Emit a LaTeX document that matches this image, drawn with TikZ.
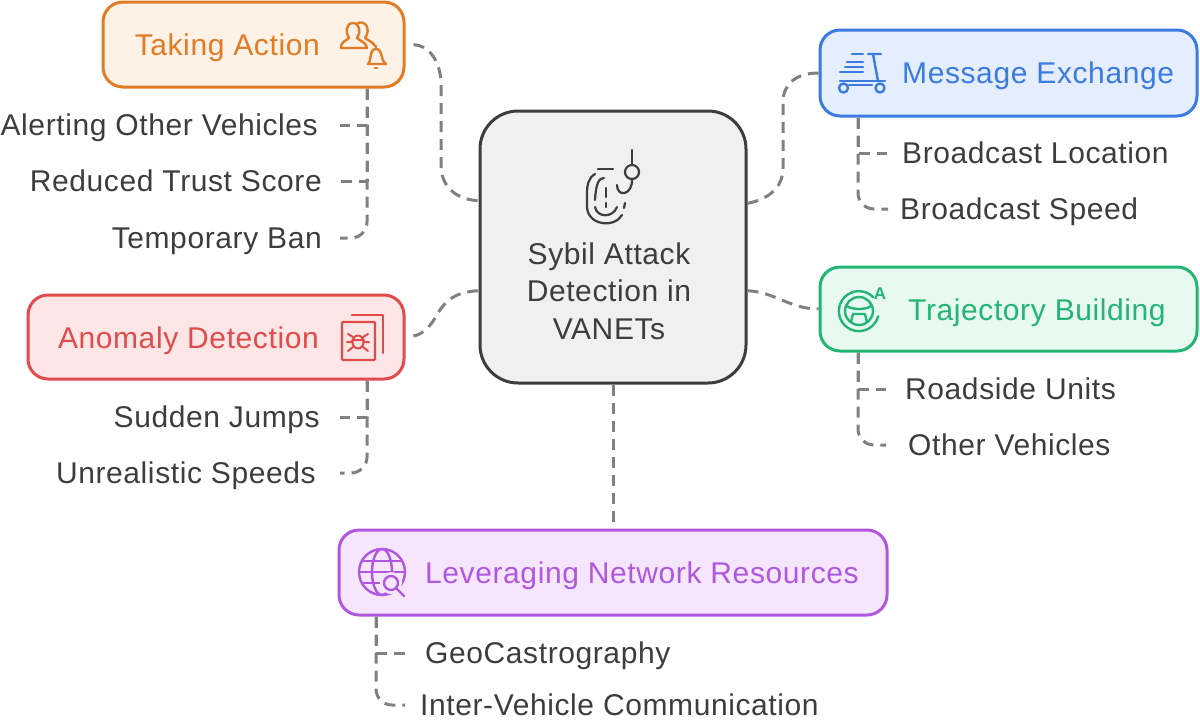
\documentclass[tikz,border=0pt]{standalone}
\usepackage{fontspec}
\setmainfont{Liberation Sans}[LetterSpace=2]
\usepackage{xcolor}
\usetikzlibrary{calc}
\definecolor{actionc}{HTML}{E07B26}
\definecolor{actionf}{HTML}{FEF1E6}
\definecolor{messagec}{HTML}{3B7BE0}
\definecolor{messagef}{HTML}{E4EEFE}
\definecolor{trajc}{HTML}{22B573}
\definecolor{trajf}{HTML}{E8F9F1}
\definecolor{anomc}{HTML}{E14B4B}
\definecolor{anomf}{HTML}{FEE6E6}
\definecolor{netc}{HTML}{B057E0}
\definecolor{netf}{HTML}{F6E6FD}
\definecolor{inkc}{HTML}{3D3D3D}
\definecolor{linkc}{HTML}{808080}

\begin{document}
\begin{tikzpicture}[x=1pt, y=-1pt, line join=round]
        \tikzset{
                basic/.style  = {draw, line width=3pt, rounded corners=20pt, inner sep=0pt},
                root/.style   = {draw=inkc, fill=black!6, line width=3pt, rounded corners=38pt,
                                inner sep=0pt, minimum width=266pt, minimum height=272pt},
                title/.style  = {inner sep=0pt, text height=20pt, text depth=0pt, font=\fontsize{30}{38}\selectfont},
                leafr/.style  = {text=inkc, text height=20pt, text depth=0pt, font=\fontsize{30}{38}\selectfont, inner ysep=0pt, anchor=east},
                leafl/.style  = {leafr, anchor=west},
                link/.style   = {draw=linkc, line width=3pt, dash pattern=on 11pt off 7pt},
                icon/.style   = {line width=2.4pt, line cap=round}
        }
        \useasboundingbox (0,0) rectangle (1200,721);

        % root of the mind map
        \node[root] (main) at (613,247) {};
        \node[font=\fontsize{30}{37.5}\selectfont, inner sep=0pt, text=inkc, align=center] (maint) at (609,291) {Sybil Attack\\Detection in\\VANETs};

        % the five boxes
        \node[basic, draw=actionc, fill=actionf, minimum width=301pt, minimum height=85pt] (c1) at (253.5,44.5) {};
        \node[basic, draw=messagec, fill=messagef, minimum width=377pt, minimum height=86pt] (c2) at (1008.5,73) {};
        \node[basic, draw=trajc, fill=trajf, minimum width=377pt, minimum height=84pt] (c3) at (1008.5,309) {};
        \node[basic, draw=anomc, fill=anomf, minimum width=376pt, minimum height=84pt] (c4) at (216,337) {};
        \node[basic, draw=netc, fill=netf, minimum width=548pt, minimum height=85pt] (c5) at (613,572.5) {};

        \node[title, text=actionc, anchor=east] (c1t) at (320,45) {Taking Action};
        \node[title, text=messagec, anchor=west] (c2t) at (902,73) {Message Exchange};
        \node[title, text=trajc, anchor=west] (c3t) at (908,310) {Trajectory Building};
        \node[title, text=anomc, anchor=east] (c4t) at (319,338) {Anomaly Detection};
        \node[title, text=netc, anchor=west] (c5t) at (425,573) {Leveraging Network Resources};

        % the texts under each box
        \node[leafr, inner xsep=22pt] (c11) at (340,125) {Alerting Other Vehicles};
        \node[leafr, inner xsep=18pt] (c12) at (340,181) {Reduced Trust Score};
        \node[leafr, inner xsep=18pt] (c13) at (340,238) {Temporary Ban};

        \node[leafl, inner xsep=15pt] (c21) at (887,153) {Broadcast Location};
        \node[leafl, inner xsep=12pt] (c22) at (888,209) {Broadcast Speed};

        \node[leafl, inner xsep=19pt] (c31) at (886,389) {Roadside Units};
        \node[leafl, inner xsep=22pt] (c32) at (886,445) {Other Vehicles};

        \node[leafr, inner xsep=20pt] (c41) at (340,417) {Sudden Jumps};
        \node[leafr, inner xsep=24pt] (c42) at (340,473) {Unrealistic Speeds};

        \node[leafl, inner xsep=20pt] (c51) at (405,653) {GeoCastrography};
        \node[leafl, inner xsep=15pt] (c52) at (405,705) {Inter-Vehicle Communication};

        % lines from the root to every box
        \draw[link, shorten <=8pt] (c1.east) .. controls (428,45) and (441,60) .. (441,85) -- (441,165)
                .. controls (441,188) and (458,200) .. (main.161.7);
        \draw[link] (main.18.3) .. controls (765,200) and (783,190) .. (783,168) -- (783,102)
                .. controls (783,85) and (795,73) .. (c2.west);
        \draw[link] (main.-18.7) .. controls (775,292) and (790,309) .. (c3.west);
        \draw[link, shorten <=8pt] (c4.east) .. controls (420,335) and (428,330) .. (435,318)
                .. controls (445,300) and (455,292) .. (main.198.7);
        \draw[link] (main.south) -- (c5.north);

        % lines from each box to its texts
        \foreach \value in {1,2}
        \draw[link] ($(c1.south east)+(-38.5,0)$) |- (c1\value.east);
        \draw[link, rounded corners=16pt] ($(c1.south east)+(-38.5,0)$) |- (c13.east);

        \draw[link] ($(c2.south west)+(39.5,0)$) |- (c21.west);
        \draw[link, rounded corners=16pt] ($(c2.south west)+(39.5,0)$) |- (c22.west);

        \draw[link] ($(c3.south west)+(39.5,0)$) |- (c31.west);
        \draw[link, rounded corners=16pt] ($(c3.south west)+(39.5,0)$) |- (c32.west);

        \draw[link] ($(c4.south east)+(-38.5,0)$) |- (c41.east);
        \draw[link, rounded corners=16pt] ($(c4.south east)+(-38.5,0)$) |- (c42.east);

        \draw[link] ($(c5.south west)+(38.5,0)$) |- (c51.west);
        \draw[link, rounded corners=16pt] ($(c5.south west)+(38.5,0)$) |- (c52.west);

        % icons
        % people and bell
        \begin{scope}[icon, draw=actionc]
                \draw (341,48) .. controls (341,41) and (346,41) .. (349,38) .. controls (345,33) and (346,23) .. (353,23)
                        .. controls (360,23) and (361,33) .. (357,38) .. controls (360,41) and (366,42) .. (367,48) -- cycle;
                \draw (358,23) .. controls (366,20) and (371,30) .. (365,38) .. controls (369,41) and (373,42) .. (375,46);
                \draw (368,64) .. controls (372,60) and (369,49) .. (376,49) .. controls (383,49) and (380,60) .. (386,64) -- cycle;
                \draw (376,46) -- (376,48) (375,68) -- (377,68);
        \end{scope}
        % scooter
        \begin{scope}[icon, draw=messagec]
                \draw (852,54) -- (863,54) (847,62) -- (863,62) (845,67) -- (863,67) (840,72) -- (863,72);
                \draw (868,54) -- (881,54) (873,54) -- (878,81);
                \draw (840,81) -- (885,81) (849,85) -- (872,85);
                \draw (843.5,88) circle (4.5) (880,88) circle (4.5);
        \end{scope}
        % steering wheel
        \begin{scope}[icon, draw=trajc]
                \draw (873,297) arc (-45:-345:20);
                \draw (859,311) circle (14);
                \draw (847,306) .. controls (852,310) and (866,310) .. (871,306);
                \draw (851,322) -- (853,314) (867,322) -- (865,314) (853,314) -- (865,314);
        \end{scope}
        \node[inner sep=0pt, text=trajc, font=\fontsize{17}{17}\selectfont\bfseries] (c3a) at (880,294) {A};
        % bug on a page
        \begin{scope}[icon, draw=anomc]
                \draw (352,315) -- (383,315) -- (383,353);
                \draw[rounded corners=1pt] (342,322) rectangle (375,360);
                \draw[line width=2pt] (358,342) ellipse (5.5 and 6.5);
                \draw[line width=2pt] (348,334) -- (353,337) (368,334) -- (363,337) (347,342) -- (352,342) (369,342) -- (364,342)
                        (348,351) -- (353,347) (368,351) -- (363,347) (352,340) -- (364,340);
        \end{scope}
        % globe and lens
        \begin{scope}[icon, draw=netc]
                \draw (382,572) circle (23);
                \draw (382,572) ellipse (10 and 23);
                \draw (360,572) -- (404,572) (363,561) -- (401,561) (363,583) -- (401,583);
                \fill[netf] (391,583) circle (11);
                \draw (391,583) circle (7) (396,588) -- (404,596);
        \end{scope}
        % fingerprint and hook
        \begin{scope}[icon, draw=inkc, line width=2.2pt]
                \draw (632,150) -- (632,165);
                \draw (632,172) circle (7);
                \draw (632,179) .. controls (633,195) and (617,198) .. (617,185);
                \draw (595,174) .. controls (588,178) and (587,186) .. (587,194) -- (587,207)
                        .. controls (588,226) and (615,228) .. (622,215);
                \draw (598,169) -- (613,169);
                \draw (604,178) .. controls (599,178) and (596,183) .. (595,200);
                \draw (595,207) .. controls (597,218) and (613,218) .. (617,207);
                \draw (606,188) -- (606,197) (606,203) -- (606,207);
                \draw (625,203) -- (624,208);
        \end{scope}
\end{tikzpicture}
\end{document}
